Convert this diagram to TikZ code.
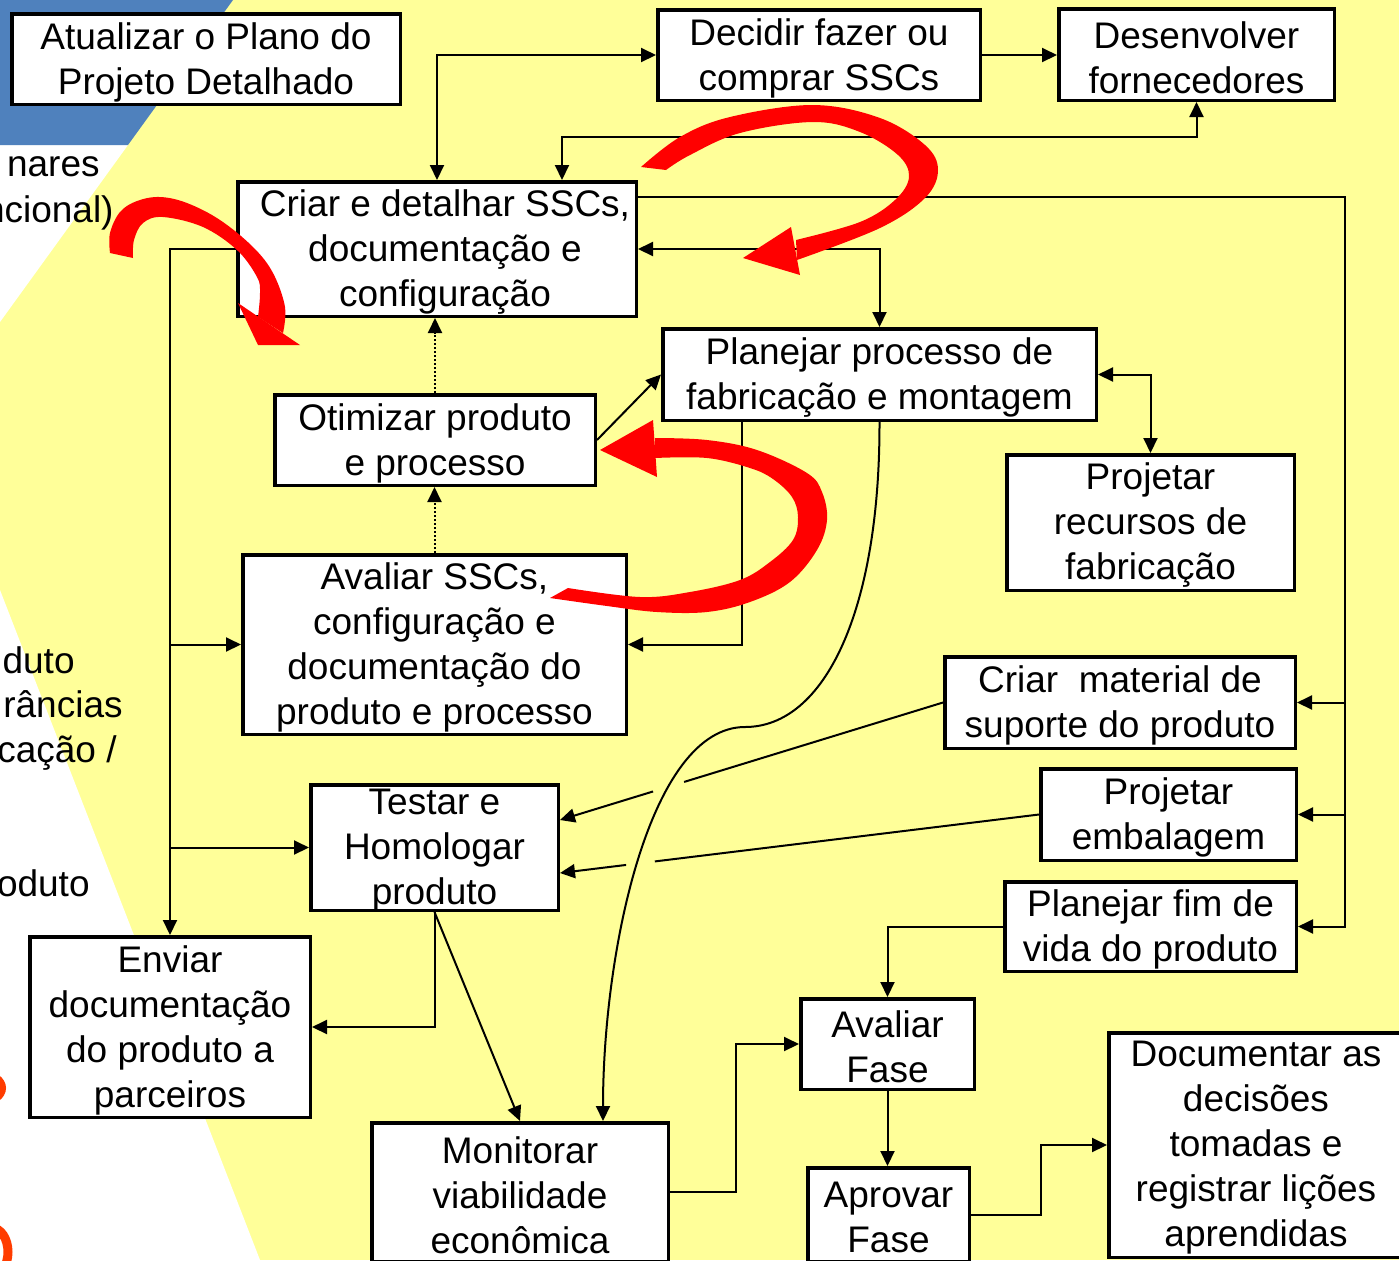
\documentclass[tikz,border=0pt]{standalone}
\usepackage{fontspec}
\setmainfont{Liberation Sans}
\usetikzlibrary{arrows.meta,calc}
\pgfdeclarelayer{back}
\pgfdeclarelayer{conn}
\pgfdeclarelayer{front}
\pgfsetlayers{back,conn,main,front}

\definecolor{bgyellow}{RGB}{255,255,153}
\definecolor{slideblue}{RGB}{79,129,189}
\definecolor{hotorange}{RGB}{255,60,0}
\newcommand\dgfont{\fontsize{18.5}{22.5}\selectfont}

\tikzset{
  pbox/.style={draw=black, line width=1.75pt, fill=white, inner sep=0pt},
  ptext/.style={align=center, inner sep=0pt, font=\dgfont, yshift=-1.5pt},
  sidetext/.style={anchor=base east, inner sep=0pt, font=\dgfont},
  conn/.style={line width=1pt, draw=black},
  arr/.style={conn, -{Triangle[length=7.5pt,width=7pt]}},
  darr/.style={conn, {Triangle[length=7.5pt,width=7pt]}-{Triangle[length=7.5pt,width=7pt]}},
  dotarr/.style={arr, dash pattern=on 1pt off 1pt},
  bigarrow/.style={fill=red},
}

% process box: [text options] name, x1, y1, x2, y2 (pixels), text
\newcommand\procbox[7][]{%
  \node[pbox, minimum width={(#5-#3)*0.5pt-1.75pt}, minimum height={(#6-#4)*0.5pt-1.75pt}]
    (#2) at ({(#3+#5)/2},{(#4+#6)/2}) {};
  \node[ptext,#1] (#2-t) at (#2.center) {#7};
}

\begin{document}
\begin{tikzpicture}[x=0.5pt,y=-0.5pt]
\useasboundingbox (0,0) rectangle (1399,1260);

% slide background behind the flow
\begin{pgfonlayer}{back}
  \fill[bgyellow] (0,0) rectangle (1399,1260);
  \fill[white] (0,145) -- (128,145) -- (0,322) -- cycle;
  \fill[white] (0,590) -- (260,1260) -- (0,1260) -- cycle;
  \fill[slideblue] (0,0) -- (233,0) -- (128,145) -- (0,145) -- cycle;
  \node[sidetext] (s1) at (100,176) {nares};
  \node[sidetext] (s2) at (114,222) {ncional)};
  \node[sidetext] (s3) at (75,673) {duto};
  \node[sidetext] (s4) at (123,717) {râncias};
  \node[sidetext] (s5) at (117,762) {cação /};
  \node[sidetext] (s6) at (90,896) {oduto};
  \draw[hotorange, line width=4pt] (-18,1088) ellipse [x radius=20, y radius=14];
  \draw[hotorange, line width=4.5pt] (-8,1252) ellipse [x radius=16, y radius=24];
\end{pgfonlayer}

% process boxes
\procbox{atu}{10}{12}{402}{106}{Atualizar o Plano do\\Projeto Detalhado}
\procbox{dec}{656}{8}{982}{102}{Decidir fazer ou\\comprar SSCs}
\procbox{des}{1057}{7}{1336}{102}{Desenvolver\\fornecedores}
\procbox[xshift=4pt]{cri}{236}{180}{638}{318}{Criar e detalhar SSCs,\\documentação e\\configuração}
\procbox{pla}{661}{327}{1098}{422}{Planejar processo de\\fabricação e montagem}
\procbox{oti}{273}{393}{597}{487}{Otimizar produto\\e processo}
\procbox{rec}{1005}{453}{1296}{592}{Projetar\\recursos de\\fabricação}
\procbox{ava}{241}{553}{628}{736}{Avaliar SSCs,\\configuração e\\documentação do\\produto e processo}
\procbox{sup}{943}{655}{1297}{750}{Criar\ \ material de\\suporte do produto}
\procbox{tes}{309}{783}{560}{912}{Testar e\\Homologar\\produto}
\procbox{emb}{1039}{767}{1298}{862}{Projetar\\embalagem}
\procbox{fim}{1003}{880}{1298}{973}{Planejar fim de\\vida do produto}
\procbox{env}{28}{935}{312}{1119}{Enviar\\documentação\\do produto a\\parceiros}
\procbox{afa}{799}{997}{976}{1091}{Avaliar\\Fase}
\procbox{mon}{370}{1121}{670}{1263}{Monitorar\\viabilidade\\econômica}
\procbox{apr}{806}{1166}{971}{1263}{Aprovar\\Fase}
\procbox{doc}{1107}{1031}{1405}{1259}{Documentar as\\decisões\\tomadas e\\registrar lições\\aprendidas}

% routing columns and rows
\coordinate (x437) at (437,0);
\coordinate (x562) at (562,0);
\coordinate (y137) at (0,137);
\coordinate (y197) at (0,197);
\coordinate (x1345) at (1345,0);
\coordinate (x742) at (742,0);
\coordinate (x603) at (603,0);
\coordinate (x736) at (736,0);
\coordinate (x1041) at (1041,0);
\coordinate (bend) at (745,727);
\coordinate (tin1) at ($(tes.east)+(0,-27.5)$);
\coordinate (tin2) at ($(tes.east)+(0,25.5)$);

\begin{pgfonlayer}{conn}
  \draw[darr] (cri.north -| x437) |- (dec.west);
  \draw[arr] (dec.east) -- (dec.east -| des.west);
  \draw[darr] (cri.north -| x562) -- (x562 |- y137) -| (des.south);
  \draw[arr] (cri.east |- y197) -| (x1345 |- fim.east) -- (fim.east);
  \draw[arr] (x1345 |- sup.east) -- (sup.east);
  \draw[arr] (x1345 |- emb.east) -- (emb.east);
  \draw[darr] (cri.east) -| (pla.north);
  \draw[dotarr] (oti.north) -- (oti.north |- cri.south);
  \draw[dotarr] (ava.north) -- (ava.north |- oti.south);
  \draw[arr] (oti.east) -- (pla.west);
  \draw[darr] (pla.east) -| (rec.north);
  \draw[arr] (pla.south -| x742) |- (ava.east);
  \draw[arr] (pla.south) .. controls (880,610) and (825,727) .. (bend)
             .. controls (650,727) and (603,950) .. (mon.north -| x603);
  \draw[conn] (sup.west) -- ($(sup.west)!0.676!(tin1)$);
  \draw[arr] ($(sup.west)!0.757!(tin1)$) -- (tin1);
  \draw[conn] (emb.west) -- ($(emb.west)!0.802!(tin2)$);
  \draw[arr] ($(emb.west)!0.862!(tin2)$) -- (tin2);
  \draw[arr] (tes.south) |- (env.east);
  \draw[arr] (tes.south) -- (mon.north);
  \draw[arr] (cri.west) -| (env.north);
  \draw[arr] (env.north |- ava.west) -- (ava.west);
  \draw[arr] (env.north |- tes.west) -- (tes.west);
  \draw[arr] (mon.east) -- (mon.east -| x736) |- (afa.west);
  \draw[arr] (afa.south) -- (afa.south |- apr.north);
  \draw[arr] (fim.west) -| (afa.north);
  \draw[arr] (apr.east) -- (apr.east -| x1041) |- (doc.west);
\end{pgfonlayer}

% thick red loop arrows
\begin{pgfonlayer}{front}
  % left loop
  \fill[bigarrow] plot[smooth, tension=0.6] coordinates {(110,253) (110,233) (120,212) (137,201) (160,197) (187,203) (220,220) (253,247) (273,273) (285,307) (283,333)}
    -- plot[smooth, tension=0.6] coordinates {(258,317) (260,293) (257,277) (237,250) (203,227) (163,217) (143,223) (134,240) (133,258)} -- cycle;
  \fill[bigarrow] (238,303) -- (258,345) -- (300,345) -- cycle;
  % upper loop
  \fill[bigarrow] plot[smooth, tension=0.6] coordinates {(641,167) (680,137) (730,117) (813,105) (880,118) (925,145) (938,170) (925,198) (880,228) (797,260)}
    -- plot[smooth, tension=0.6] coordinates {(796,240) (860,222) (895,200) (909,177) (898,155) (860,132) (813,122) (740,133) (690,155) (666,170)} -- cycle;
  \fill[bigarrow] (791,227) -- (743,258) -- (800,275) -- cycle;
  % middle loop
  \fill[bigarrow] plot[smooth, tension=0.6] coordinates {(550,598) (607,606) (657,612) (707,612) (750,602) (790,582) (817,550) (827,520) (822,492) (807,473) (757,450) (707,440) (655,438)}
    -- plot[smooth, tension=0.6] coordinates {(655,458) (707,458) (750,468) (773,479) (792,497) (798,517) (793,540) (770,562) (740,580) (690,592) (640,597) (568,588)} -- cycle;
  \fill[bigarrow] (653,420) -- (600,450) -- (657,477) -- cycle;
\end{pgfonlayer}
\end{tikzpicture}
\end{document}
